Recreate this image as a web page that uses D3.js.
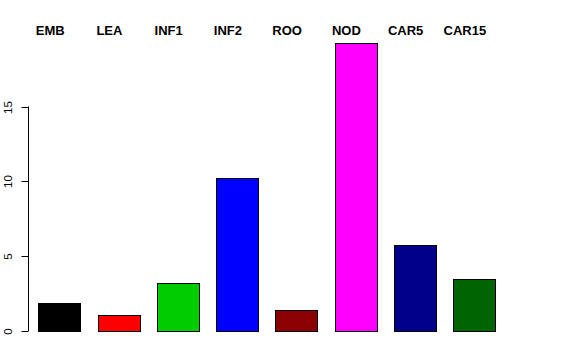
<!DOCTYPE html>
<html>
<head>
<meta charset="utf-8">
<script src="https://cdn.jsdelivr.net/npm/d3@7"></script>
<style>
  body { margin: 0; background: #fff; }
  svg { display: block; font-family: "Liberation Sans", Arial, sans-serif; }
</style>
</head>
<body>
<div id="chart"></div>
<script>
// data
var categories = ["EMB", "LEA", "INF1", "INF2", "ROO", "NOD", "CAR5", "CAR15"];
var values = [1.85, 1.05, 3.2, 10.22, 1.42, 19.25, 5.77, 3.5];
var barColors = ["#000000", "#ff0000", "#00cd00", "#0000ff", "#8b0000", "#ff00ff", "#00008b", "#006400"];
var yTicks = [0, 5, 10, 15];

var width = 576, height = 360;

var svg = d3.select("#chart")
    .append("svg")
    .attr("width", width)
    .attr("height", height);

// x: band scale, bars ~42px wide on a ~59px step
var x = d3.scaleBand()
    .domain(categories)
    .range([20.8, 512.3])
    .paddingInner(0.296)
    .paddingOuter(0.296);

// y: 0 sits at 331, 15 at ~106.5
var y = d3.scaleLinear()
    .domain([0, 15])
    .range([331, 106.5]);

// bars
svg.append("g")
    .selectAll("rect")
    .data(values)
    .enter()
    .append("rect")
    .attr("x", (d, i) => Math.round(x(categories[i])) + 0.5)
    .attr("y", d => Math.round(y(d)) + 0.5)
    .attr("width", Math.round(x.bandwidth()))
    .attr("height", d => Math.round(y(0)) - Math.round(y(d)))
    .attr("fill", (d, i) => barColors[i])
    .attr("stroke", "#000")
    .attr("stroke-width", 1);

// y axis (R style: ticks outward, labels parallel to axis)
var axisG = svg.append("g")
    .attr("transform", translate(28.5, 0));
axisG.append("line")
    .attr("x1", 0).attr("x2", 0)
    .attr("y1", y(15)).attr("y2", y(0))
    .attr("stroke", "#000");
var tick = axisG.selectAll("g.tick")
    .data(yTicks)
    .enter()
    .append("g")
    .attr("class", "tick")
    .attr("transform", d => translate(0, Math.round(y(d)) + 0.5));
tick.append("line")
    .attr("x1", -7).attr("x2", 0)
    .attr("stroke", "#000");
tick.append("text")
    .attr("transform", "translate(-16.5, 0) rotate(-90)")
    .attr("text-anchor", "middle")
    .attr("font-size", 11.5)
    .text(d => d);

// category labels across the top
svg.append("g")
    .selectAll("text")
    .data(categories)
    .enter()
    .append("text")
    .attr("x", d => x(d) + x.bandwidth() / 2 - 9)
    .attr("y", 34.5)
    .attr("text-anchor", "middle")
    .attr("font-size", 13)
    .attr("font-weight", "bold")
    .text(d => d);

function translate(x, y) {
    return `translate(${x}, ${y})`;
}
</script>
</body>
</html>
